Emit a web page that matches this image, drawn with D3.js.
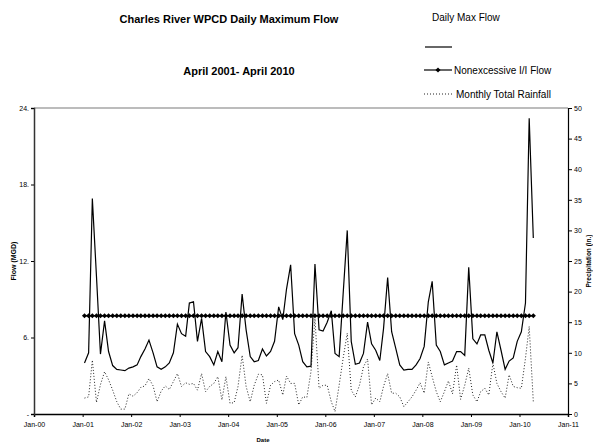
<!DOCTYPE html>
<html>
<head>
<meta charset="utf-8">
<script src="https://cdn.jsdelivr.net/npm/d3@7"></script>
<style>
body { margin: 0; background: #fff; }
text { font-family: "Liberation Sans", Arial, sans-serif; }
</style>
</head>
<body>
<div id="chart"></div>
<script>
// Charles River WPCD daily max flow, monthly, Jan 2001 - Apr 2010

var startMonth = new Date(2001, 0, 1), endMonth = new Date(2010, 4, 1);

// daily maximum flow (MGD), one value per month
var maxFlow = [4.0,4.8,16.9,10.8,4.7,7.3,4.9,3.8,3.5,3.45,
    3.4,3.6,3.7,3.85,4.5,5.1,5.8,4.8,3.7,3.5,
    3.7,4.0,4.8,7.05,6.3,6.1,8.7,8.8,5.7,7.5,
    4.9,4.5,3.85,4.9,4.1,8.0,5.4,4.8,5.2,9.4,
    6.6,4.5,4.1,4.2,5.1,4.55,4.9,5.7,8.4,7.4,
    9.8,11.7,6.3,5.4,4.1,3.7,3.75,11.76,6.6,6.5,
    7.2,8.1,4.75,4.5,9.4,14.4,5.7,3.9,4.0,4.75,
    7.2,5.5,5.0,4.2,6.7,10.7,6.45,5.15,3.85,3.45,
    3.5,3.5,3.85,4.35,5.3,8.8,10.4,5.4,4.9,3.85,
    4.0,4.15,4.9,4.9,4.6,11.5,5.9,5.5,6.2,6.2,
    5.0,4.0,6.45,5.0,3.5,4.15,4.4,5.7,6.45,8.7,
    23.2,13.8];

// monthly total rainfall (in.)
var rainfall = [2.6,2.8,8.8,1.9,4.8,6.9,5.6,3.9,2.0,0.8,
    0.8,3.3,2.9,3.5,4.35,4.6,5.8,4.6,2.0,3.75,
    4.6,4.0,5.3,6.6,4.5,5.1,4.85,5.0,3.9,6.6,
    3.65,4.5,5.0,6.1,2.3,6.1,1.75,1.85,4.5,9.6,
    4.5,2.0,4.7,6.5,6.4,1.75,4.7,5.3,5.55,3.1,
    6.2,5.0,5.0,1.5,2.8,2.7,6.9,15.6,4.2,4.7,
    4.7,2.0,0.4,4.7,9.1,13.2,3.9,2.8,4.7,7.7,
    9.0,1.5,2.6,2.0,4.5,6.6,3.4,3.4,2.8,1.2,
    2.0,2.8,3.9,5.1,3.4,8.5,6.1,3.65,2.0,3.65,
    5.4,3.3,8.0,2.4,4.7,7.5,3.1,2.0,3.65,4.2,
    3.1,8.3,5.0,3.65,2.6,6.4,4.5,4.3,4.2,9.1,
    14.3,2.0];

var nonexcessive = 7.7;   // MGD, flat line
var flowTicks = [0, 6, 12, 18, 24];
var rainTicks = [0, 5, 10, 15, 20, 25, 30, 35, 40, 45, 50];

var width = 593, height = 444;
var pLeft = 34, pRight = 568, pTop = 108, pBottom = 414;

var months = d3.timeMonth.range(startMonth, endMonth).map(function(d){return d3.timeDay.offset(d, 14);});
var data = months.map(function(d, i){
    return {date: d, flow: maxFlow[i], rain: rainfall[i], base: nonexcessive};
});

var x = d3.scaleTime().domain([new Date(2000,0,1), new Date(2011,0,1)]).range([pLeft, pRight]);
var yFlow = d3.scaleLinear().domain([0, 24]).range([pBottom, pTop]);
var yRain = d3.scaleLinear().domain([0, 50]).range([pBottom, pTop]);

var svg = d3.select("#chart").append("svg")
    .attr("width", width)
    .attr("height", height);

// frame
svg.append("line").attr("x1", pLeft).attr("x2", pRight).attr("y1", pTop).attr("y2", pTop)
    .attr("stroke", "#a6a6a6").attr("stroke-width", 1.5);

// axes
var xAxis = d3.axisBottom(x).ticks(d3.timeYear.every(1))
    .tickFormat(d3.timeFormat("Jan-%y")).tickSize(3).tickPadding(5);
var gx = svg.append("g").attr("transform", "translate(0," + pBottom + ")").call(xAxis);

var gl = svg.append("g").attr("transform", "translate(" + pLeft + ",0)")
    .call(d3.axisLeft(yFlow).tickValues(flowTicks)
	  .tickFormat(function(d){return d === 0 ? "-" : d + ".";}).tickSize(3).tickPadding(2));

var gr = svg.append("g").attr("transform", "translate(" + pRight + ",0)")
    .call(d3.axisRight(yRain).tickValues(rainTicks).tickSize(4).tickPadding(2));

[gx, gl, gr].forEach(function(g){
    g.selectAll("text").attr("font-size", 7).attr("font-family", "Liberation Sans, Arial, sans-serif").attr("fill", "#000");
    g.select(".domain").attr("stroke", "#000").attr("stroke-width", 1.2);
    g.selectAll(".tick line").attr("stroke", "#000");
});
gl.select(".domain").attr("stroke", "#333").attr("stroke-width", 1.5);
gx.select(".domain").attr("stroke-width", 1.5);

// series
var rainLine = d3.line().x(function(d){return x(d.date);}).y(function(d){return yRain(d.rain);});
var flowLine = d3.line().x(function(d){return x(d.date);}).y(function(d){return yFlow(d.flow);});
var baseLine = d3.line().x(function(d){return x(d.date);}).y(function(d){return yFlow(d.base);});

svg.append("path").datum(data).attr("d", rainLine)
    .attr("fill", "none").attr("stroke", "#222").attr("stroke-width", 1)
    .attr("stroke-dasharray", "1,2");

svg.append("path").datum(data).attr("d", flowLine)
    .attr("fill", "none").attr("stroke", "#000").attr("stroke-width", 1.2);

svg.append("path").datum(data).attr("d", baseLine)
    .attr("fill", "none").attr("stroke", "#000").attr("stroke-width", 1.5);

var diamond = d3.symbol().type(d3.symbolSquare).size(13);
svg.selectAll(".mark").data(data).enter().append("path")
    .attr("class", "mark")
    .attr("d", diamond)
    .attr("transform", function(d){return "translate(" + x(d.date) + "," + yFlow(d.base) + ") rotate(45)";})
    .attr("fill", "#000");

// titles
svg.append("text").attr("x", 229).attr("y", 23).attr("text-anchor", "middle")
    .attr("font-size", 11).attr("font-weight", "bold").text("Charles River WPCD Daily Maximum Flow");
svg.append("text").attr("x", 239).attr("y", 75).attr("text-anchor", "middle")
    .attr("font-size", 11).attr("font-weight", "bold").text("April 2001- April 2010");

svg.append("text").attr("transform", "translate(16," + ((pTop + pBottom) / 2) + ") rotate(-90)")
    .attr("text-anchor", "middle").attr("font-size", 7).attr("font-weight", "bold").text("Flow (MGD)");
svg.append("text").attr("transform", "translate(591," + ((pTop + pBottom) / 2) + ") rotate(-90)")
    .attr("text-anchor", "middle").attr("font-size", 6.5).attr("font-weight", "bold").text("Precipitation (in.)");
svg.append("text").attr("x", 263).attr("y", 442).attr("text-anchor", "middle")
    .attr("font-size", 6).attr("font-weight", "bold").text("Date");

// legend
var lg = svg.append("g");
lg.append("text").attr("x", 432).attr("y", 21).attr("font-size", 10).text("Daily Max Flow");
lg.append("line").attr("x1", 425).attr("x2", 452).attr("y1", 47).attr("y2", 47)
    .attr("stroke", "#000").attr("stroke-width", 1.2);
lg.append("line").attr("x1", 424).attr("x2", 452).attr("y1", 70).attr("y2", 70)
    .attr("stroke", "#000").attr("stroke-width", 1.2);
lg.append("path").attr("d", diamond).attr("transform", "translate(438,70) rotate(45)").attr("fill", "#000");
lg.append("text").attr("x", 454).attr("y", 74).attr("font-size", 10).text("Nonexcessive I/I Flow");
lg.append("line").attr("x1", 424).attr("x2", 452).attr("y1", 94).attr("y2", 94)
    .attr("stroke", "#222").attr("stroke-width", 1).attr("stroke-dasharray", "1,2");
lg.append("text").attr("x", 456).attr("y", 98).attr("font-size", 10).text("Monthly Total Rainfall");
</script>
</body>
</html>
